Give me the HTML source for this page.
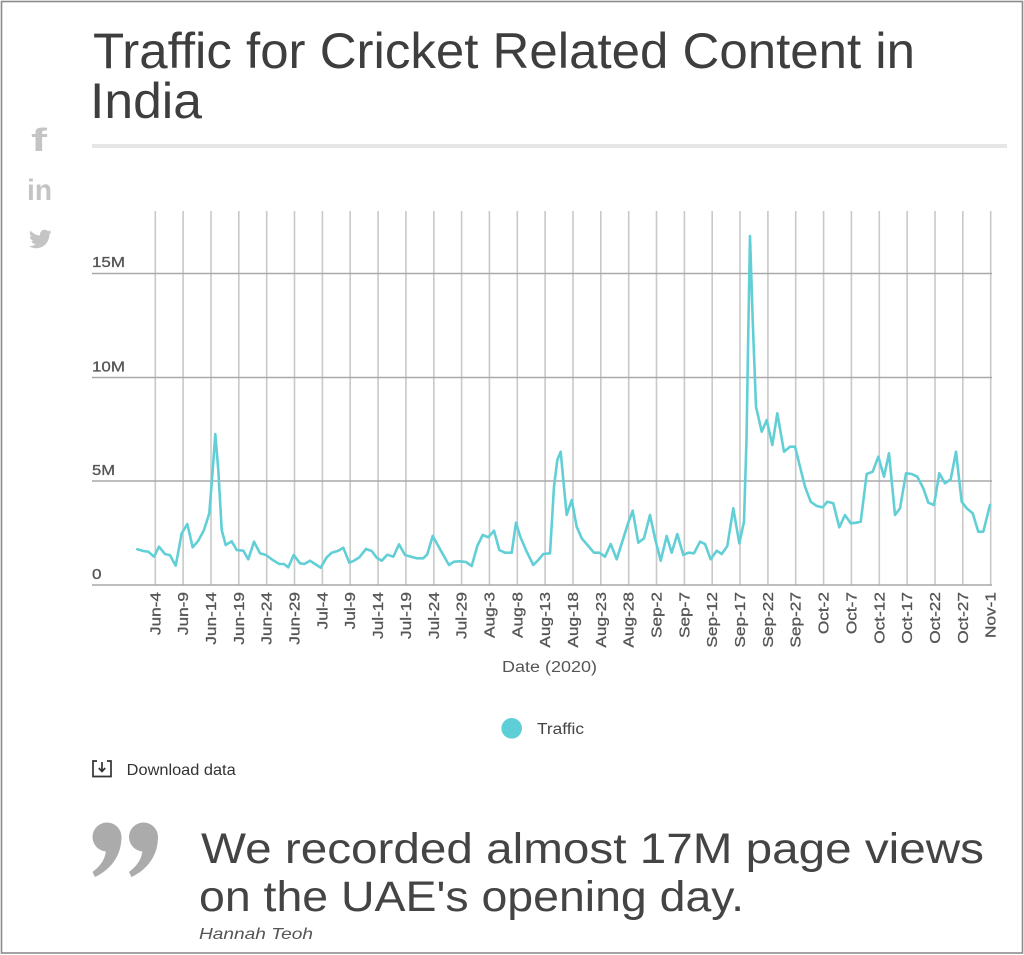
<!DOCTYPE html>
<html><head><meta charset="utf-8"><style>
html,body{margin:0;padding:0;background:#fff;}
svg{display:block;}
text{font-family:"Liberation Sans",Arial,sans-serif;}
</style></head><body>
<svg width="1024" height="955" viewBox="0 0 1024 955" xmlns="http://www.w3.org/2000/svg">
<rect x="0" y="0" width="1024" height="955" fill="#fff"/>
<rect x="1.5" y="1.5" width="1021" height="951.5" fill="none" stroke="#8c8c8c" stroke-width="1.6"/>

<!-- Title -->
<text x="93" y="68" font-size="50" fill="#3e3e3e" textLength="822" lengthAdjust="spacingAndGlyphs">Traffic for Cricket Related Content in</text>
<text x="90" y="118" font-size="50" fill="#3e3e3e" textLength="112" lengthAdjust="spacingAndGlyphs">India</text>
<rect x="92" y="144" width="915" height="4" fill="#e6e6e6"/>

<!-- social icons -->
<text x="31" y="151" font-size="32" font-weight="bold" fill="#c4c4c4" textLength="16" lengthAdjust="spacingAndGlyphs">f</text>
<text x="27" y="200" font-size="30" font-weight="bold" fill="#c4c4c4" textLength="25" lengthAdjust="spacingAndGlyphs">in</text>
<path transform="translate(28,227)" fill="#c4c4c4" d="M23.643 4.937c-.835.37-1.732.62-2.675.733.962-.576 1.7-1.49 2.048-2.578-.9.534-1.897.922-2.958 1.13-.85-.904-2.06-1.47-3.4-1.470-2.572 0-4.658 2.086-4.658 4.660 0 .364.042.718.12 1.06-3.873-.195-7.304-2.05-9.602-4.868-.4.69-.63 1.49-.63 2.342 0 1.616.823 3.043 2.072 3.878-.764-.025-1.482-.234-2.11-.583v.06c0 2.257 1.605 4.14 3.737 4.568-.392.106-.803.162-1.227.162-.3 0-.593-.028-.877-.082.593 1.850 2.313 3.198 4.352 3.234-1.595 1.250-3.604 1.995-5.786 1.995-.376 0-.747-.022-1.112-.065 2.062 1.323 4.510 2.093 7.140 2.093 8.570 0 13.255-7.098 13.255-13.254 0-.2-.005-.402-.014-.602.910-.658 1.700-1.477 2.323-2.410z"/>

<!-- vertical grid -->
<g stroke="#c9c9c9" stroke-width="1.6">
<line x1="155.3" y1="211" x2="155.3" y2="585"/>
<line x1="183.1" y1="211" x2="183.1" y2="585"/>
<line x1="211.0" y1="211" x2="211.0" y2="585"/>
<line x1="238.8" y1="211" x2="238.8" y2="585"/>
<line x1="266.7" y1="211" x2="266.7" y2="585"/>
<line x1="294.5" y1="211" x2="294.5" y2="585"/>
<line x1="322.4" y1="211" x2="322.4" y2="585"/>
<line x1="350.2" y1="211" x2="350.2" y2="585"/>
<line x1="378.1" y1="211" x2="378.1" y2="585"/>
<line x1="405.9" y1="211" x2="405.9" y2="585"/>
<line x1="433.8" y1="211" x2="433.8" y2="585"/>
<line x1="461.6" y1="211" x2="461.6" y2="585"/>
<line x1="489.4" y1="211" x2="489.4" y2="585"/>
<line x1="517.3" y1="211" x2="517.3" y2="585"/>
<line x1="545.1" y1="211" x2="545.1" y2="585"/>
<line x1="573.0" y1="211" x2="573.0" y2="585"/>
<line x1="600.8" y1="211" x2="600.8" y2="585"/>
<line x1="628.7" y1="211" x2="628.7" y2="585"/>
<line x1="656.5" y1="211" x2="656.5" y2="585"/>
<line x1="684.4" y1="211" x2="684.4" y2="585"/>
<line x1="712.2" y1="211" x2="712.2" y2="585"/>
<line x1="740.0" y1="211" x2="740.0" y2="585"/>
<line x1="767.9" y1="211" x2="767.9" y2="585"/>
<line x1="795.7" y1="211" x2="795.7" y2="585"/>
<line x1="823.6" y1="211" x2="823.6" y2="585"/>
<line x1="851.4" y1="211" x2="851.4" y2="585"/>
<line x1="879.3" y1="211" x2="879.3" y2="585"/>
<line x1="907.1" y1="211" x2="907.1" y2="585"/>
<line x1="935.0" y1="211" x2="935.0" y2="585"/>
<line x1="962.8" y1="211" x2="962.8" y2="585"/>
<line x1="990.7" y1="211" x2="990.7" y2="585"/>
</g>

<!-- horizontal grid -->
<g stroke="#a9a9a9" stroke-width="1.6">
<line x1="92" y1="273.5" x2="992" y2="273.5"/>
<line x1="92" y1="377.5" x2="992" y2="377.5"/>
<line x1="92" y1="481" x2="992" y2="481"/>
<line x1="92" y1="585" x2="992" y2="585"/>
</g>

<!-- y labels -->
<g font-size="15" fill="#555" stroke="#555" stroke-width="0.3">
<text x="92" y="267" textLength="33" lengthAdjust="spacingAndGlyphs">15M</text>
<text x="92" y="371.5" textLength="33" lengthAdjust="spacingAndGlyphs">10M</text>
<text x="92" y="475" textLength="23" lengthAdjust="spacingAndGlyphs">5M</text>
<text x="92" y="579" textLength="9.5" lengthAdjust="spacingAndGlyphs">0</text>
</g>

<!-- x labels -->
<g font-size="15" fill="#555" stroke="#555" stroke-width="0.3" text-anchor="end">
<text transform="translate(160.3,592) rotate(-90) scale(1.15,1)">Jun-4</text>
<text transform="translate(188.1,592) rotate(-90) scale(1.15,1)">Jun-9</text>
<text transform="translate(216.0,592) rotate(-90) scale(1.15,1)">Jun-14</text>
<text transform="translate(243.8,592) rotate(-90) scale(1.15,1)">Jun-19</text>
<text transform="translate(271.7,592) rotate(-90) scale(1.15,1)">Jun-24</text>
<text transform="translate(299.5,592) rotate(-90) scale(1.15,1)">Jun-29</text>
<text transform="translate(327.4,592) rotate(-90) scale(1.15,1)">Jul-4</text>
<text transform="translate(355.2,592) rotate(-90) scale(1.15,1)">Jul-9</text>
<text transform="translate(383.1,592) rotate(-90) scale(1.15,1)">Jul-14</text>
<text transform="translate(410.9,592) rotate(-90) scale(1.15,1)">Jul-19</text>
<text transform="translate(438.8,592) rotate(-90) scale(1.15,1)">Jul-24</text>
<text transform="translate(466.6,592) rotate(-90) scale(1.15,1)">Jul-29</text>
<text transform="translate(494.4,592) rotate(-90) scale(1.15,1)">Aug-3</text>
<text transform="translate(522.3,592) rotate(-90) scale(1.15,1)">Aug-8</text>
<text transform="translate(550.1,592) rotate(-90) scale(1.15,1)">Aug-13</text>
<text transform="translate(578.0,592) rotate(-90) scale(1.15,1)">Aug-18</text>
<text transform="translate(605.8,592) rotate(-90) scale(1.15,1)">Aug-23</text>
<text transform="translate(633.7,592) rotate(-90) scale(1.15,1)">Aug-28</text>
<text transform="translate(661.5,592) rotate(-90) scale(1.15,1)">Sep-2</text>
<text transform="translate(689.4,592) rotate(-90) scale(1.15,1)">Sep-7</text>
<text transform="translate(717.2,592) rotate(-90) scale(1.15,1)">Sep-12</text>
<text transform="translate(745.0,592) rotate(-90) scale(1.15,1)">Sep-17</text>
<text transform="translate(772.9,592) rotate(-90) scale(1.15,1)">Sep-22</text>
<text transform="translate(800.7,592) rotate(-90) scale(1.15,1)">Sep-27</text>
<text transform="translate(828.6,592) rotate(-90) scale(1.15,1)">Oct-2</text>
<text transform="translate(856.4,592) rotate(-90) scale(1.15,1)">Oct-7</text>
<text transform="translate(884.3,592) rotate(-90) scale(1.15,1)">Oct-12</text>
<text transform="translate(912.1,592) rotate(-90) scale(1.15,1)">Oct-17</text>
<text transform="translate(940.0,592) rotate(-90) scale(1.15,1)">Oct-22</text>
<text transform="translate(967.8,592) rotate(-90) scale(1.15,1)">Oct-27</text>
<text transform="translate(995.7,592) rotate(-90) scale(1.15,1)">Nov-1</text>
</g>

<text x="502" y="672" font-size="15.5" fill="#555" textLength="95" lengthAdjust="spacingAndGlyphs">Date (2020)</text>

<!-- data line -->
<polyline fill="none" stroke="#62cfd6" stroke-width="2.6" stroke-linejoin="round" stroke-linecap="round" points="
137.3,549.3 143.3,551 148.3,551.7 154,556.7 159,546.7 165,554 170,555.3 175.7,565.7 181.7,533.3 187.3,524 192.7,547.3 198.3,540.7 204,530 209.3,513.3 212.7,470 215.3,434 218.3,470 221.7,530 225.7,545 231.7,541.3 236.7,550 243.3,550.7 248.3,559.3 254,541.7 260,553.3 266,555 272.7,560 279.3,564 284,564 288.3,567.3 293.7,555 300,563.3 304.3,564 310,560.7 315,564 320.7,567.7 326.7,557.3 331.7,552.7 338.3,550.7 343.3,547.7 349.3,562.7 354,560.7 359.3,557.3 366,549 371.7,551 376.7,557.7 381.7,560.7 387.3,554.7 393.3,556.7 399,544.3 405,555 411,556.7 416.7,558.3 423.3,558.3 427.3,554.3 432.7,536 438.3,546 443.3,555 449,565 454,561.7 460,561.3 466,562 471.7,566 477.3,546 482.7,535 488.3,537.3 494,530.7 499.3,550 505,552.7 511.7,552.7 516,522.7 520,536 526.7,551.7 533.3,565 538.3,560 543.3,554 550,553.3 554,486.7 557.3,460 560.7,451.7 563.3,480 566.7,515 571.7,500 576.7,526.7 581.7,538.3 588.3,546 594,552.7 599.3,552.7 605,556.7 610.7,544 616.7,559.3 623.3,538.3 628.3,522.7 632.7,510.7 638.3,542.7 644,538.3 650,515 655,538.3 660.7,560.7 666.7,536 671.7,552.7 677.3,534 683.3,555 688.3,552.7 694,553.3 700,541.7 705,544 710.7,559.3 716.7,550.7 721.7,554 727.3,546 733.3,508.3 739.3,543.3 744,521.7 746.5,440 748.5,320 750,236 752.7,320 756,406.7 761.7,431.7 766.7,420 772.3,445 777.3,413.3 784,451.7 790,446.7 795,446.7 800,466.7 805,486.7 810.7,501.7 816.7,506 822.7,507.3 827.3,501.7 833.3,503.3 839.3,527.3 845,515 850.7,523.3 856,522.7 860.7,521.7 866.7,474 872.7,471.7 878.3,456.7 884,476.7 889,453.3 895,515 900,508.3 906,473.3 911.7,474 917.3,476.7 923.3,488.3 928.3,502.7 934,505 939.3,473.3 945,483.3 950.7,479.3 956,451.7 961.7,501.7 966.7,508.3 972.7,513.3 978.3,531.7 983.3,531.7 990,505"/>

<!-- legend -->
<circle cx="511.7" cy="728.3" r="10.3" fill="#5ecfd7"/>
<text x="537" y="734" font-size="15.5" fill="#444" textLength="47" lengthAdjust="spacingAndGlyphs">Traffic</text>

<!-- download -->
<g fill="none" stroke="#333" stroke-width="1.7">
<path d="M97,761 H93 V776.5 H111 V761 H107"/>
<path d="M102,762 V771 M98.8,768 L102,771.5 L105.2,768"/>
</g>
<text x="126.7" y="775" font-size="16" fill="#333" textLength="109" lengthAdjust="spacingAndGlyphs">Download data</text>

<!-- quote marks -->
<g fill="#ababab">
<circle cx="107" cy="837" r="14.5"/>
<path d="M121.4,836 C122,856 110,870 95,877 L92.5,872 C103,864 106.5,856 106,846 Z"/>
<circle cx="143.5" cy="837" r="14.5"/>
<path d="M157.9,836 C158.5,856 146.5,870 131.5,877 L129,872 C139.5,864 143,856 142.5,846 Z"/>
</g>

<!-- quote -->
<text x="201" y="863" font-size="43" fill="#444" textLength="783" lengthAdjust="spacingAndGlyphs">We recorded almost 17M page views</text>
<text x="199" y="911" font-size="43" fill="#444" textLength="545" lengthAdjust="spacingAndGlyphs">on the UAE's opening day.</text>
<text x="199" y="939" font-size="16" font-style="italic" fill="#555" textLength="114" lengthAdjust="spacingAndGlyphs">Hannah Teoh</text>
</svg>
</body></html>
